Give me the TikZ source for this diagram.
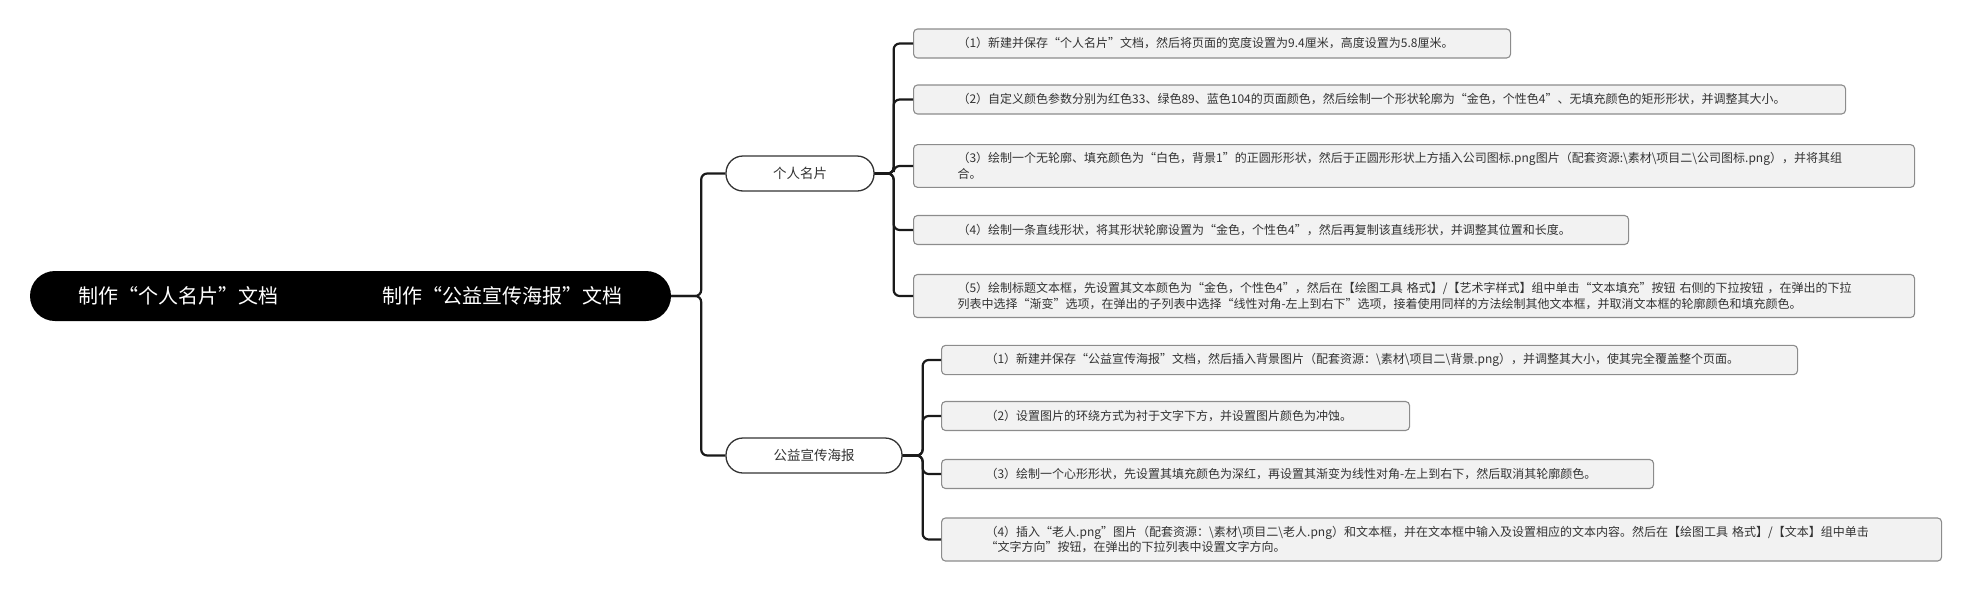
\documentclass[tikz,border=0pt]{standalone}
\usepackage{fontspec}
\setmainfont{Noto Sans CJK SC}
\usepackage{tikz}
\usetikzlibrary{positioning}
\usepackage{xcolor}
\definecolor{leaffill}{HTML}{F2F2F2}
\definecolor{leafdraw}{HTML}{8C8C8C}
\definecolor{inktext}{HTML}{333333}
\definecolor{linkline}{HTML}{1A1A1A}
\def\bsl{\textbackslash}
\exhyphenpenalty=10000
\hyphenpenalty=10000

\begin{document}
\begin{tikzpicture} [x=1pt, y=-1pt,
  root/.style={fill=black,text=white,rounded corners=25pt,minimum width=641pt,minimum height=50pt,inner sep=0pt,font=\fontsize{20}{24}\selectfont},
  topic/.style={draw=inktext,fill=white,line width=1.3pt,rounded corners=17pt,minimum height=35pt,inner sep=0pt,text=inktext,font=\fontsize{13.5}{16}\selectfont},
  leaf/.style={draw=leafdraw,fill=leaffill,line width=1.1pt,rounded corners=4pt,anchor=west,align=left,inner xsep=44pt,inner ysep=8pt,minimum height=29pt,text=inktext,font=\fontsize{12}{15.5}\selectfont},
  elbow/.style={to path={-- ++(#1,0) |- (\tikztotarget)}}
]
  \useasboundingbox (0,0) rectangle (1972,592);
  \node[root] (m) at (350.5,296) {制作“个人名片”文档\hspace{104pt}制作“公益宣传海报”文档};
  \node[topic,minimum width=148pt] (card) at (800,173.5) {个人名片};
  \node[topic,minimum width=176pt] (poster) at (814,455.5) {公益宣传海报};
  % 个人名片
  \node[leaf,text width=509pt] (card-1) at (913,43.5) {（1）新建并保存“个人名片”文档，然后将页面的宽度设置为9.4厘米，高度设置为5.8厘米。};
  \node[leaf,text width=844pt] (card-2) at (913,99.5) {（2）自定义颜色参数分别为红色33、绿色89、蓝色104的页面颜色，然后绘制一个形状轮廓为“金色，个性色4”、无填充颜色的矩形形状，并调整其大小。};
  \node[leaf,text width=913pt] (card-3) at (913,166) {（3）绘制一个无轮廓、填充颜色为“白色，背景1”的正圆形形状，然后于正圆形形状上方插入公司图标.png图片（配套资源:\bsl{}素材\bsl{}项目二\bsl{}公司图标.png），并将其组\\合。};
  \node[leaf,text width=627pt] (card-4) at (913,230) {（4）绘制一条直线形状，将其形状轮廓设置为“金色，个性色4”，然后再复制该直线形状，并调整其位置和长度。};
  \node[leaf,text width=913pt] (card-5) at (913,296) {（5）绘制标题文本框，先设置其文本颜色为“金色，个性色4”，然后在【绘图工具~格式】/【艺术字样式】组中单击“文本填充”按钮~右侧的下拉按钮~，在弹出的下拉\\列表中选择“渐变”选项，在弹出的子列表中选择“线性对角-左上到右下”选项，接着使用同样的方法绘制其他文本框，并取消文本框的轮廓颜色和填充颜色。};
  % 公益宣传海报
  \node[leaf,text width=768pt] (poster-1) at (941,360) {（1）新建并保存“公益宣传海报”文档，然后插入背景图片（配套资源：\bsl{}素材\bsl{}项目二\bsl{}背景.png），并调整其大小，使其完全覆盖整个页面。};
  \node[leaf,text width=380pt] (poster-2) at (941,416) {（2）设置图片的环绕方式为衬于文字下方，并设置图片颜色为冲蚀。};
  \node[leaf,text width=624pt] (poster-3) at (941,474) {（3）绘制一个心形形状，先设置其填充颜色为深红，再设置其渐变为线性对角-左上到右下，然后取消其轮廓颜色。};
  \node[leaf,text width=912pt] (poster-4) at (941,539.5) {（4）插入“老人.png”图片（配套资源：\bsl{}素材\bsl{}项目二\bsl{}老人.png）和文本框，并在文本框中输入及设置相应的文本内容。然后在【绘图工具~格式】/【文本】组中单击\\“文字方向”按钮，在弹出的下拉列表中设置文字方向。};
  \path[color=linkline,line width=2.2pt,rounded corners=6pt]
  (m.east) edge[elbow=30] (card.west)
  (m.east) edge[elbow=30] (poster.west)
  (card.east) edge[elbow=19] (card-1.west)
  (card.east) edge[elbow=19] (card-2.west)
  (card.east) edge[elbow=19] (card-3.west)
  (card.east) edge[elbow=19] (card-4.west)
  (card.east) edge[elbow=19] (card-5.west)
  (poster.east) edge[elbow=20] (poster-1.west)
  (poster.east) edge[elbow=20] (poster-2.west)
  (poster.east) edge[elbow=20] (poster-3.west)
  (poster.east) edge[elbow=20] (poster-4.west)
  ;
\end{tikzpicture}
\end{document}
